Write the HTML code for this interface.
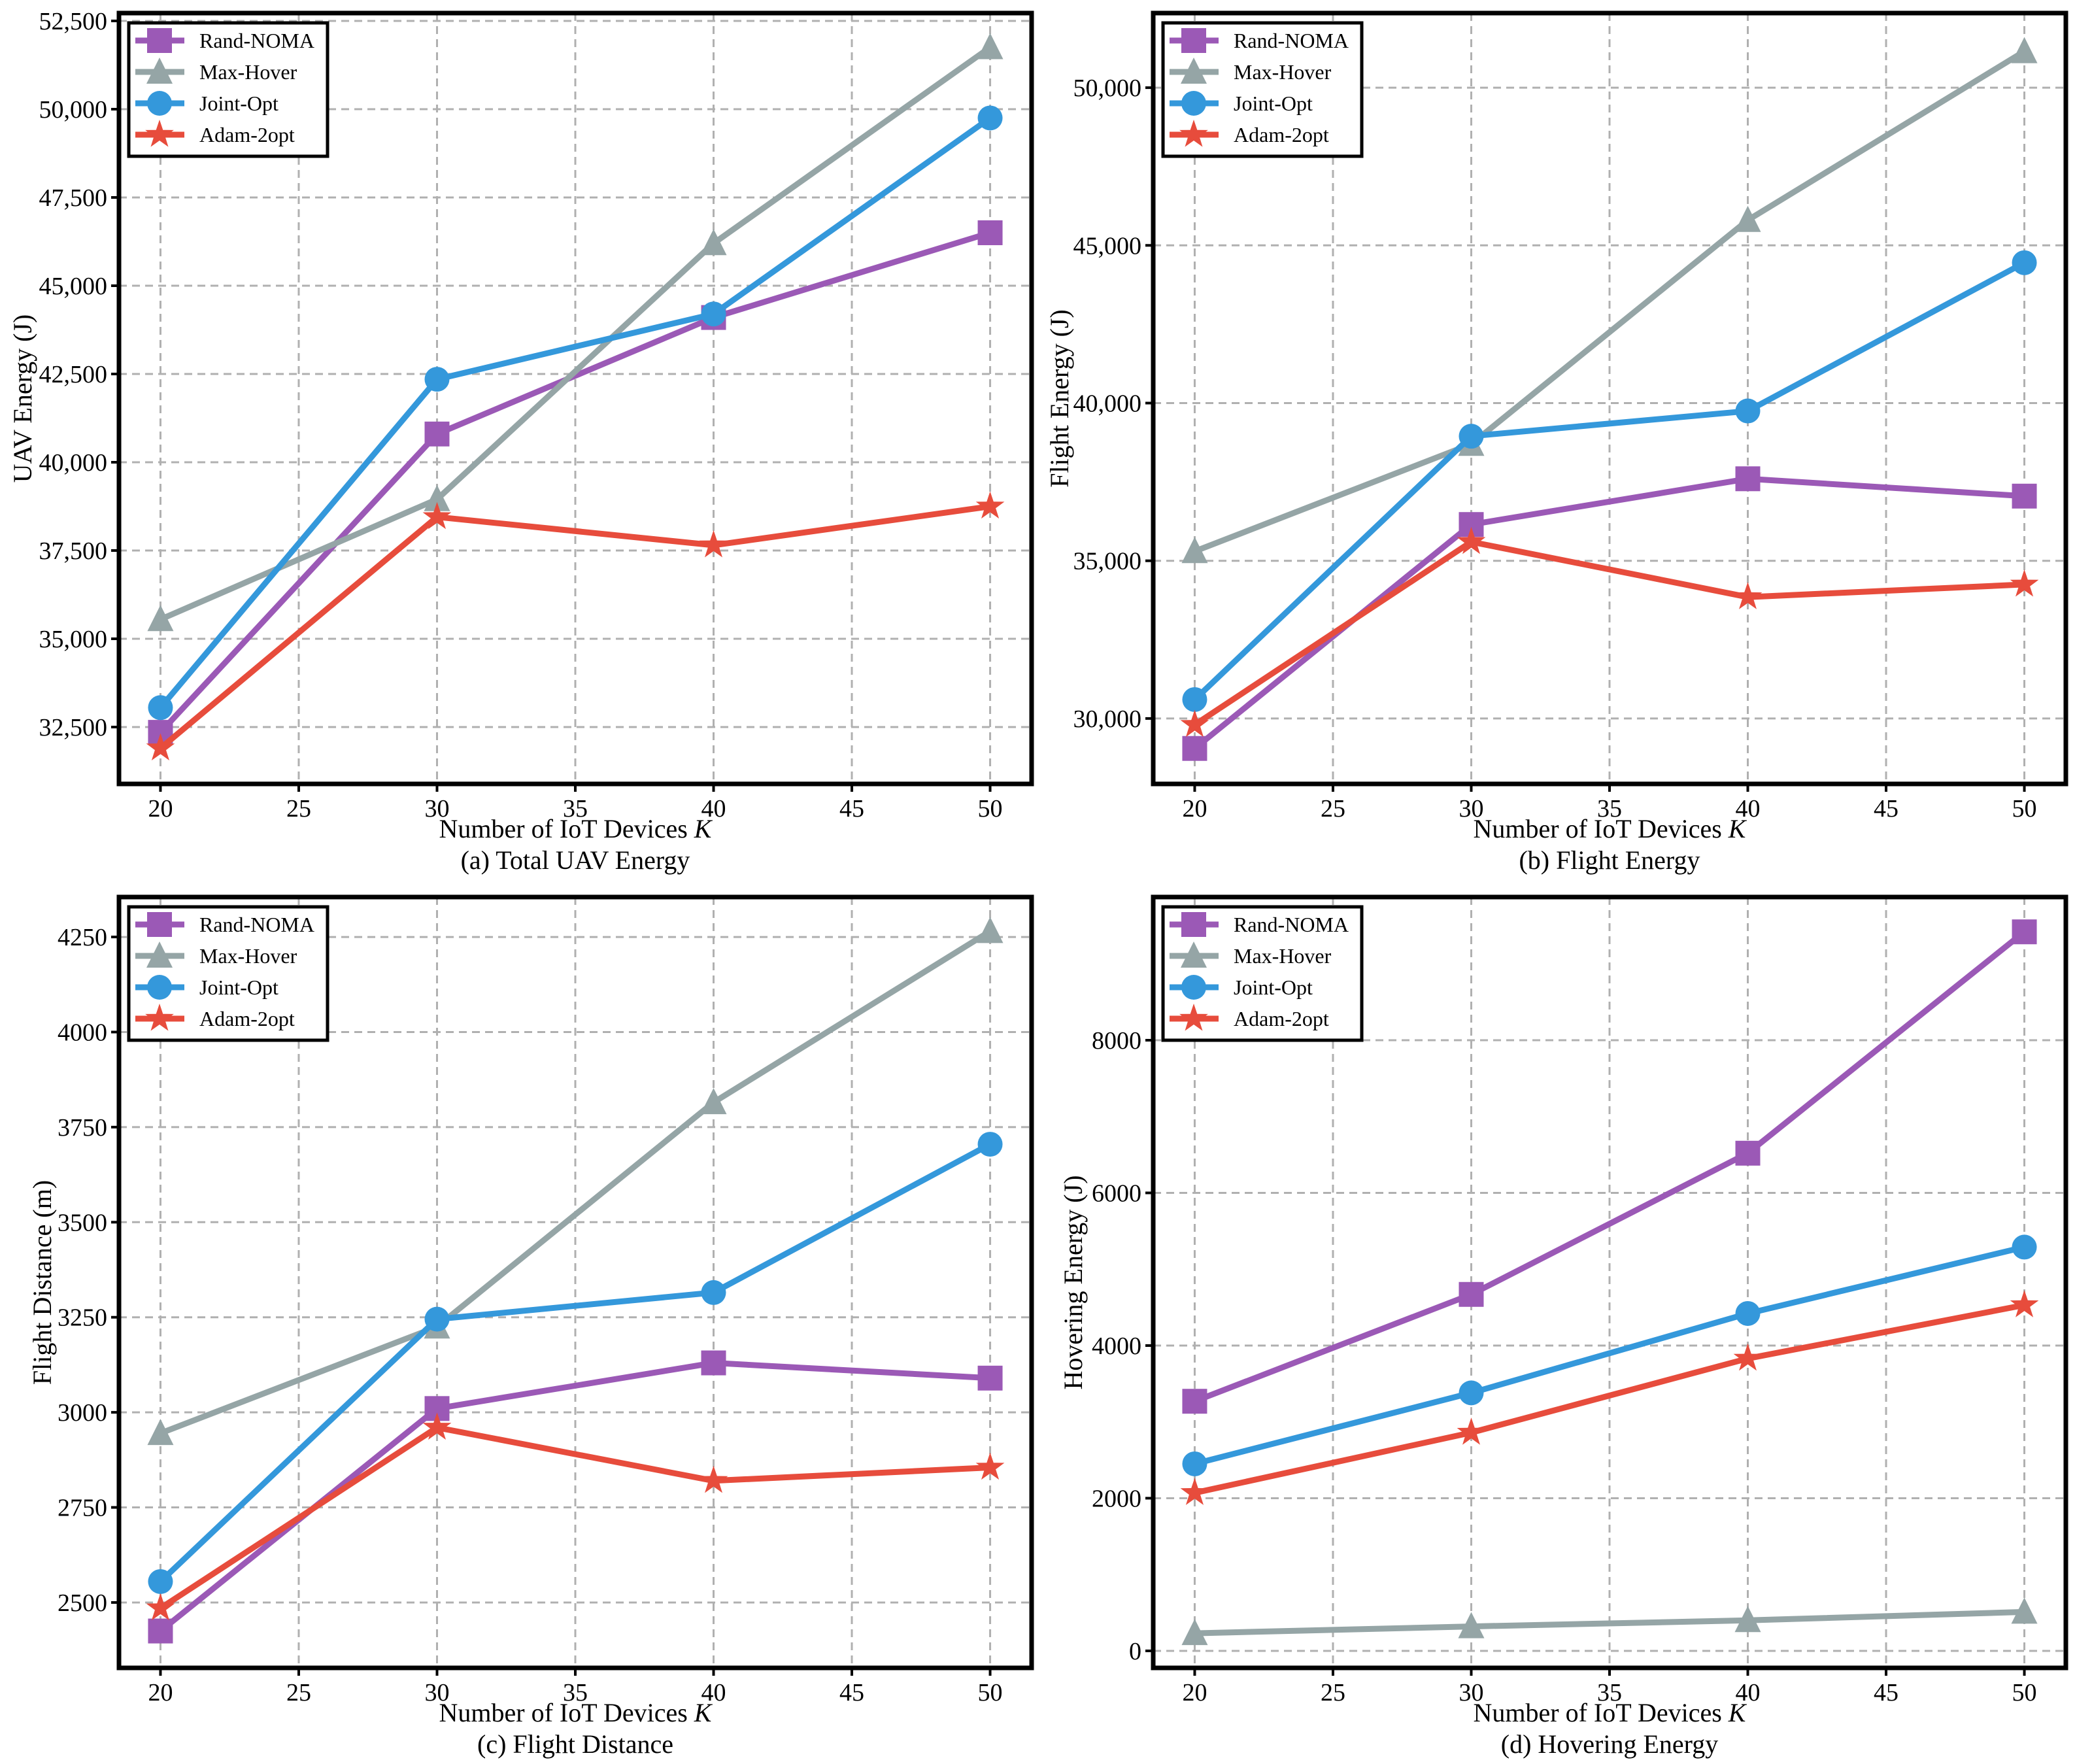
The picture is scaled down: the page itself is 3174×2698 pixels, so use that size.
<!DOCTYPE html>
<html><head><meta charset="utf-8"><style>
html,body{margin:0;padding:0;background:#fff}
svg{display:block}
text{font-family:"Liberation Serif","DejaVu Serif",serif;fill:#000}
</style></head><body>
<svg id="fig" width="3174" height="2698" viewBox="0 0 3174 2698" xmlns="http://www.w3.org/2000/svg"></svg>
<script>
const categories = [20, 30, 40, 50];
const seriesNames = ["Rand-NOMA", "Max-Hover", "Joint-Opt", "Adam-2opt"];
const xTicks = [20, 25, 30, 35, 40, 45, 50];
// (a) Total UAV Energy
const aRand = [32350, 40800, 44100, 46500];
const aMax = [35550, 38950, 46200, 51750];
const aJoint = [33050, 42350, 44200, 49750];
const aAdam = [31900, 38450, 37650, 38750];
const aTicks = [32500, 35000, 37500, 40000, 42500, 45000, 47500, 50000, 52500];
// (b) Flight Energy
const bRand = [29050, 36150, 37600, 37050];
const bMax = [35300, 38700, 45800, 51150];
const bJoint = [30600, 38950, 39750, 44450];
const bAdam = [29800, 35600, 33850, 34250];
const bTicks = [30000, 35000, 40000, 45000, 50000];
// (c) Flight Distance
const cRand = [2425, 3010, 3130, 3090];
const cMax = [2945, 3225, 3815, 4265];
const cJoint = [2555, 3245, 3315, 3705];
const cAdam = [2485, 2960, 2820, 2855];
const cTicks = [2500, 2750, 3000, 3250, 3500, 3750, 4000, 4250];
// (d) Hovering Energy
const dRand = [3270, 4670, 6520, 9420];
const dMax = [230, 320, 400, 510];
const dJoint = [2450, 3380, 4420, 5290];
const dAdam = [2070, 2860, 3830, 4530];
const dTicks = [0, 2000, 4000, 6000, 8000];

const colors = ["#9b59b6", "#95a5a6", "#3498db", "#e74c3c"];
const markers = ["square", "triangle", "circle", "star"];
const NS = "http://www.w3.org/2000/svg";
const svg = document.getElementById("fig");
function el(tag, attrs, parent) {
  const e = document.createElementNS(NS, tag);
  for (const k in attrs) e.setAttribute(k, attrs[k]);
  (parent || svg).appendChild(e);
  return e;
}
function fmt(v, comma) { return comma ? v.toLocaleString("en-US") : String(v); }
function marker(type, cx, cy, color, g) {
  let m;
  if (type === "square") m = el("rect", {x: cx-19, y: cy-19, width: 38, height: 38, fill: color}, g);
  else if (type === "circle") m = el("circle", {cx: cx, cy: cy, r: 19, fill: color}, g);
  else if (type === "triangle") m = el("polygon", {points: `${cx},${cy-22} ${cx+20},${cy+18} ${cx-20},${cy+18}`, fill: color}, g);
  else {
    let pts = [];
    for (let i = 0; i < 10; i++) {
      const r = i % 2 ? 9 : 23, a = -Math.PI/2 + i*Math.PI/5;
      pts.push((cx + r*Math.cos(a)).toFixed(1) + "," + (cy + r*Math.sin(a)).toFixed(1));
    }
    m = el("polygon", {points: pts.join(" "), fill: color}, g);
  }
  return m;
}
function panel(cfg) {
  const {L, R, T, B, ymin, ymax, ticks, comma, series, ylabel, ylabelX, caption, key} = cfg;
  const g = el("g", {});
  
  
  const xs = v => L + (v - 18.5) / 33 * (R - L);
  const ys = v => B - (v - ymin) / (ymax - ymin) * (B - T);
  // grid
  xTicks.forEach(t => {
    const l = el("line", {x1: xs(t), x2: xs(t), y1: T, y2: B, stroke: "#b0b0b0", "stroke-width": 3, "stroke-dasharray": "12,8"}, g);
    
    
    el("line", {x1: xs(t), x2: xs(t), y1: B, y2: B+12, stroke: "#000", "stroke-width": 4}, g);
    const tx = el("text", {x: xs(t), y: B + 50, "font-size": 38, "text-anchor": "middle"}, g);
    tx.textContent = t;
    
    
  });
  ticks.forEach(t => {
    const l = el("line", {x1: L, x2: R, y1: ys(t), y2: ys(t), stroke: "#b0b0b0", "stroke-width": 3, "stroke-dasharray": "12,8"}, g);
    
    
    el("line", {x1: L-12, x2: L, y1: ys(t), y2: ys(t), stroke: "#000", "stroke-width": 4}, g);
    const tx = el("text", {x: L - 18, y: ys(t) + 13, "font-size": 38, "text-anchor": "end"}, g);
    tx.textContent = fmt(t, comma);
    
    
  });
  // series
  series.forEach((vals, i) => {
    const sg = el("g", {}, g);
    
    
    const pts = vals.map((v, j) => xs(categories[j]).toFixed(1) + "," + ys(v).toFixed(1)).join(" ");
    el("polyline", {points: pts, fill: "none", stroke: colors[i], "stroke-width": 9, "stroke-linejoin": "round"}, sg);
    vals.forEach((v, j) => {
      const m = marker(markers[i], xs(categories[j]), ys(v), colors[i], sg);
      
      
    });
  });
  // spines
  const fr = el("rect", {x: L, y: T, width: R-L, height: B-T, fill: "none", stroke: "#000", "stroke-width": 7}, g);
  
  
  // legend
  const lg = el("g", {}, g);
  
  
  el("rect", {x: L+15, y: T+15, width: 304, height: 204, fill: "#fff", stroke: "#000", "stroke-width": 5}, lg);
  seriesNames.forEach((n, i) => {
    const cy = T + 42 + i*48;
    const eg = el("g", {}, lg);
    
    
    el("line", {x1: L+25, x2: L+100, y1: cy, y2: cy, stroke: colors[i], "stroke-width": 9}, eg);
    marker(markers[i], L+62, cy, colors[i], eg);
    const t = el("text", {x: L+123, y: cy+11, "font-size": 32}, eg);
    t.textContent = n;
  });
  // labels
  const yl = el("text", {x: ylabelX, y: (T+B)/2, "font-size": 40, "text-anchor": "middle", transform: `rotate(-90 ${ylabelX} ${(T+B)/2})`}, g);
  yl.textContent = ylabel;
  
  
  const xl = el("text", {x: (L+R)/2, y: B + 82, "font-size": 40, "text-anchor": "middle"}, g);
  xl.innerHTML = 'Number of IoT Devices <tspan font-style="italic">K</tspan>';
  
  
  const cp = el("text", {x: (L+R)/2, y: B + 130, "font-size": 40, "text-anchor": "middle"}, g);
  cp.textContent = caption;
  
  
}
panel({key: "a", L: 182, R: 1578, T: 20, B: 1199, ymin: 30889, ymax: 52722, ticks: aTicks, comma: true,
  series: [aRand, aMax, aJoint, aAdam], ylabel: "UAV Energy (J)", ylabelX: 48, caption: "(a) Total UAV Energy"});
panel({key: "b", L: 1764, R: 3160, T: 20, B: 1199, ymin: 27925, ymax: 52365, ticks: bTicks, comma: true,
  series: [bRand, bMax, bJoint, bAdam], ylabel: "Flight Energy (J)", ylabelX: 1634, caption: "(b) Flight Energy"});
panel({key: "c", L: 182, R: 1578, T: 1372, B: 2551, ymin: 2328, ymax: 4355, ticks: cTicks, comma: false,
  series: [cRand, cMax, cJoint, cAdam], ylabel: "Flight Distance (m)", ylabelX: 78, caption: "(c) Flight Distance"});
panel({key: "d", L: 1764, R: 3160, T: 1372, B: 2551, ymin: -223, ymax: 9876, ticks: dTicks, comma: false,
  series: [dRand, dMax, dJoint, dAdam], ylabel: "Hovering Energy (J)", ylabelX: 1655, caption: "(d) Hovering Energy"});
</script>
</body></html>
